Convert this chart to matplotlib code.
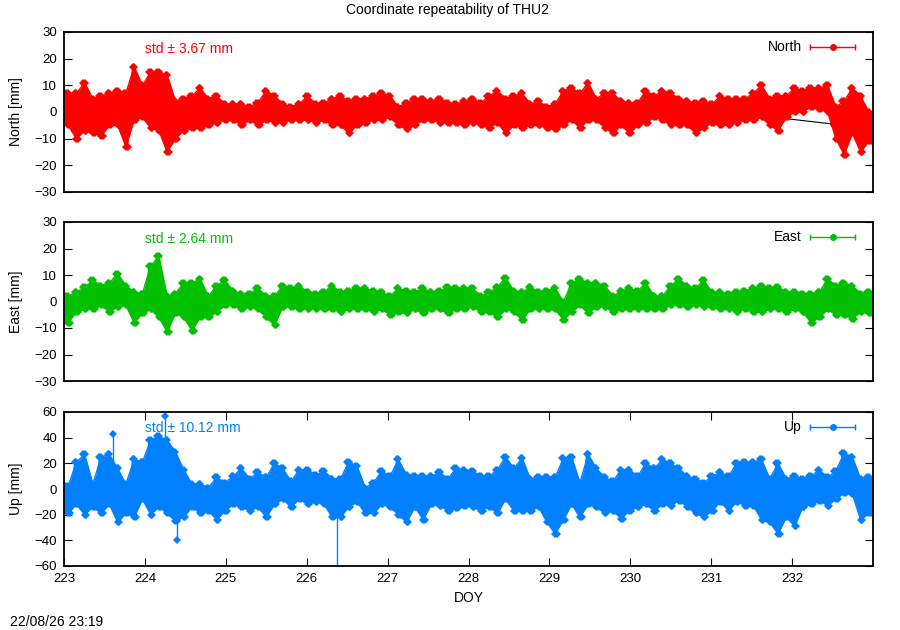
import numpy as np
import matplotlib
matplotlib.use('Agg')
import matplotlib.pyplot as plt

plt.rcParams['font.family'] = ['Liberation Sans', 'DejaVu Sans']

# ---------------- data ----------------
doy_start, doy_end = 223, 233
x_ticks = [223, 224, 225, 226, 227, 228, 229, 230, 231, 232]

# upper / lower envelope of each ~0.1-day bin (mm)
north_hi = [7, 7, 11, 5, 6, 7, 8, 7, 17, 10, 15, 15, 14, 4, 5, 6, 9, 5, 6, 3,
            3, 3, 2, 3.5, 8, 6, 3, 2, 3, 6, 3, 3.5, 5, 6, 4, 5, 5, 6, 7, 6,
            2, 3.5, 5, 5, 4, 5, 3.5, 3, 4,
            5, 3.5, 6, 8, 5, 6, 7, 3, 4, 2, 3, 8, 9, 7, 11, 5, 7, 7, 4, 3.5,
            3.5, 8, 6, 8, 7, 5, 4, 3.5, 4, 3, 6, 5, 5, 5, 7, 10, 5, 6, 6, 9,
            8, 9, 9, 10, 2, 4, 9, 6, 0]
north_lo = [-5, -10, -7, -8, -9, -5, -5, -13, -3, -2, -6, -7, -15, -10, -7, -6, -6, -5, -4, -3,
            -3, -5, -3, -5, -3, -4, -4, -3, -3, -3, -4, -3, -5, -5, -8, -5, -4, -3, -3, -2,
            -5, -6.5, -5, -3, -3, -4, -4, -4, -5,
            -4, -5, -6, -4, -8, -5, -6, -5, -5, -6, -6.5, -5, -3, -6, -3, -3, -6, -8, -5, -8,
            -5, -4, -2, -3, -5, -5, -5, -8, -6, -4, -5, -5, -4, -3, -3, -2, -5, -7, -2, 0,
            0, 2, 1, 0, -10, -16, -8, -15, -11]

east_hi = [2, 3.5, 5.5, 8, 6, 7, 10.5, 6, 3.5, 3, 13.5, 17, 2, 3, 7, 7, 8.5, 2, 6, 8,
           4, 3, 3, 5, 2, 2, 6, 5, 6, 3.5, 3, 3.5, 6, 3.5, 4, 5, 5, 4, 3.5, 2,
           5, 4, 3.5, 5, 3.5, 4, 5.5, 5, 5,
           5, 2, 3.5, 5.5, 9, 4, 3.5, 5.5, 3.5, 4, 5, 0, 7, 8.5, 7, 7, 6, 2, 4, 5,
           4, 7, 2, 2, 6, 8.5, 6, 5, 8, 3.5, 3.5, 3, 3.5, 4, 5, 6, 5, 5.5, 3.5, 3.5,
           3, 3, 3.5, 8.5, 6, 7, 6, 3, 3.5]
east_lo = [-8, -4, -3, -3, -1.5, -4, -2, -1.5, -8, -4.5, -3, -6, -11.5, -4.5, -6, -11, -6, -6, -4, -1.5,
           -1.5, -3, -2, -3, -6, -9, -2, -2, -3, -3, -3, -3, -3, -4, -3, -3, -3, -4, -3, -5,
           -4, -4.5, -3, -4.5, -3, -3, -4.5, -3, -3,
           -2, -4, -4, -6, -3, -4, -7, -3, -3, -3, -3, -7, -4, -1.5, -4.5, -2, -2, -4, -3, -3,
           -3, -3, -3, -3, -1.5, -1.5, -2, -1.5, -2, -2, -3, -3, -4, -3, -4, -4, -3, -3, -4, -3,
           -4, -8, -6, -3, -5, -5, -6.5, -4, -4.5]

up_hi = [2, 21, 27, 4, 25, 27, 16, 4, 23, 21, 38, 41, 38, 29, 15, 4, 4, 1, 9, 5,
         10, 16, 8, 13, 9, 20, 16, 6, 15, 15, 11, 14, 8, 8, 21, 18, 1, 5, 14, 10,
         23, 11, 10, 10, 10, 13, 8, 16, 15,
         14, 10, 10, 15, 25, 16, 24, 8, 9, 9, 9, 24, 25, 5, 27, 16, 9, 6, 15, 15,
         10, 20, 16, 23, 20, 16, 10, 8, 5, 10, 13, 10, 20, 21, 21, 23, 8, 20, 8, 10,
         8, 10, 15, 9, 14, 28, 25, 8, 9]
up_lo = [-19, -12, -20, -14, -19, -12, -26, -19, -22, -8, -20, -14, -19, -25, -22, -14, -19, -17, -24, -17,
         -12, -14, -17, -14, -22, -12, -8, -14, -8, -12, -10, -12, -22, -22, -14, -10, -19, -19, -12, -14,
         -20, -26, -14, -24, -12, -13, -17, -15, -13,
         -14, -17, -14, -19, -8, -17, -17, -17, -14, -26, -35, -24, -12, -22, -12, -14, -19, -17, -23, -17,
         -14, -12, -17, -12, -13, -9, -14, -19, -22, -17, -10, -17, -10, -13, -13, -24, -26, -35, -22, -29,
         -14, -12, -9, -13, -8, -3, -4, -24, -19]

# isolated single-epoch excursions in Up (doy, mm)
up_spike_doy = [223.60, 224.25, 224.40, 226.38]
up_spike_val = [43, 57, -40, -75]

# daily mean solutions (black)
daily_doy = [223.5, 224.5, 225.5, 226.5, 227.5, 228.5, 229.5, 230.5, 231.5, 232.5]
north_daily = [0.5, 0.5, -0.3, 0.5, 1.5, 1.6, 1.8, 0.4, -1.0, -4.5]
east_daily = [0.5, 0.5, 0.0, 0.0, 0.0, 0.5, 0.0, 0.0, 0.0, 0.0]
up_daily = [0, 0, -6, -4, 2, 3, 1, 1, -3, 3]

names = ['North', 'East', 'Up']
std_values = [3.67, 2.64, 10.12]
colors = ['#ff0000', '#00c000', '#0080ff']
ylims = [(-30, 30), (-30, 30), (-60, 60)]
ystep = [10, 10, 20]


def bins(hi, lo):
    n = len(hi)
    edges = np.linspace(doy_start, doy_end, n + 1)
    w = edges[1] - edges[0]
    centers = edges[:-1] + 0.5 * w
    xs = np.empty(2 * n)
    ys = np.empty(2 * n)
    xs[0::2] = edges[:-1] + 0.3 * w
    xs[1::2] = edges[:-1] + 0.7 * w
    ys[0::2] = hi
    ys[1::2] = lo
    # band spans the whole bin range (first/last bins held to the frame)
    fx = np.r_[doy_start, centers, doy_end]
    fhi = np.r_[hi[0], hi, hi[-1]]
    flo = np.r_[lo[0], lo, lo[-1]]
    return centers, xs, ys, fx, fhi, flo


# ---------------- figure ----------------
W, H = 900, 630
fig = plt.figure(figsize=(W / 100, H / 100), dpi=100)

boxes = [(32, 192), (222, 381), (412, 566)]
left_px, right_px = 64, 873

series_hi = [north_hi, east_hi, up_hi]
series_lo = [north_lo, east_lo, up_lo]
series_daily = [north_daily, east_daily, up_daily]

for i, (top, bot) in enumerate(boxes):
    ax = fig.add_axes([left_px / W, 1 - bot / H, (right_px - left_px) / W, (bot - top) / H])
    c = colors[i]
    centers, xs, ys, fx, fhi, flo = bins(series_hi[i], series_lo[i])
    ax.plot(daily_doy, series_daily[i], color='black', lw=0.8, marker='o',
            markersize=3.5, zorder=1)
    ax.fill_between(fx, flo, fhi, color=c, lw=0, zorder=2)
    ax.plot(xs, ys, color=c, lw=1.0, marker='D', markersize=4.5,
            markeredgewidth=0, zorder=3)
    ax.plot(centers, series_hi[i], color=c, lw=1.0, marker='D', markersize=4.5,
            markeredgewidth=0, zorder=3)
    ax.plot(centers, series_lo[i], color=c, lw=1.0, marker='D', markersize=4.5,
            markeredgewidth=0, zorder=3)
    if i == 2:
        for d, v in zip(up_spike_doy, up_spike_val):
            ax.plot([d, d], [0, v], color=c, lw=1.0, marker='D', markersize=4.5,
                    markeredgewidth=0, markevery=[1], zorder=3)
    ax.set_xlim(doy_start, doy_end)
    ax.set_ylim(*ylims[i])
    lo_, hi_ = ylims[i]
    ax.set_yticks(np.arange(lo_, hi_ + 1, ystep[i]))
    ax.tick_params(axis='y', direction='in', length=6, width=0.8, labelsize=9.5,
                   left=True, right=True, pad=5)
    if i == 2:
        ax.set_xticks(x_ticks)
        ax.tick_params(axis='x', direction='in', length=6, width=0.8, labelsize=9.5,
                       top=True, bottom=True, pad=5)
        ax.set_xlabel('DOY', fontsize=10, labelpad=4)
    else:
        ax.set_xticks([])
    for sp in ax.spines.values():
        sp.set_linewidth(1.3)
        sp.set_zorder(6)
    ax.set_ylabel(f'{names[i]} [mm]', fontsize=10, labelpad=8)
    ax.text(0.100, 0.895, f'std \u00b1 {std_values[i]:.2f} mm', transform=ax.transAxes,
            color=c, fontsize=10, va='center', ha='left', zorder=5)
    # legend key
    ly = 0.905
    ax.text(0.912, ly, names[i], transform=ax.transAxes, fontsize=10,
            ha='right', va='center')
    ax.plot([0.922, 0.978], [ly, ly], transform=ax.transAxes, color=c,
            lw=1.0, clip_on=False)
    ax.plot([0.922, 0.978], [ly, ly], transform=ax.transAxes, color=c,
            lw=0, marker='|', markersize=5, markeredgewidth=1.0, clip_on=False)
    ax.plot([0.951], [ly], transform=ax.transAxes, color=c,
            marker='o', markersize=4, clip_on=False)

fig.text(448 / W, 1 - 10 / H, 'Coordinate repeatability of THU2', ha='center',
         va='center', fontsize=10)
fig.text(10 / W, 1 - 622 / H, '22/08/26 23:19', ha='left', va='center', fontsize=10)

fig.savefig('out.png', dpi=100)
